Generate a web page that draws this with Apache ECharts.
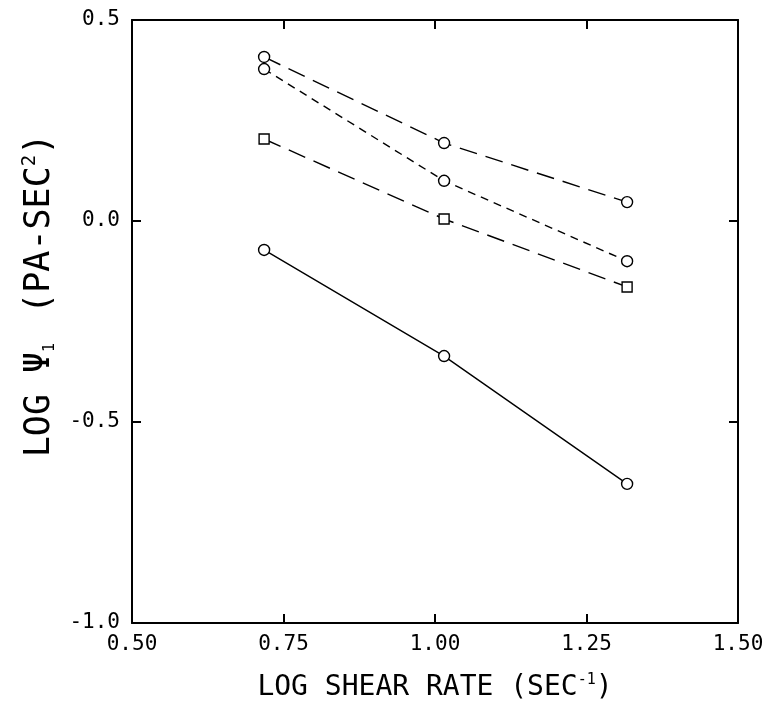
<!DOCTYPE html>
<html>
<head>
<meta charset="utf-8">
<script src="https://cdn.jsdelivr.net/npm/echarts@6/dist/echarts.min.js"></script>
<style>
  html, body { margin: 0; padding: 0; background: #fff; }
  #chart { width: 770px; height: 711px; }
</style>
</head>
<body>
<div id="chart"></div>
<script>
// log shear rate (x) values shared by every series
var shearRate = [0.718, 1.015, 1.317];
// log psi1 values, one list per curve
var psiLongDashCircle = [0.408, 0.194, 0.047];
var psiShortDashCircle = [0.378, 0.100, -0.100];
var psiLongDashSquare = [0.204, 0.005, -0.164];
var psiSolidCircle = [-0.072, -0.336, -0.654];

function pairs(ys) {
    return shearRate.map(function (x, i) { return [x, ys[i]]; });
}

var font = '"DejaVu Sans Mono", monospace';

function series(ys, symbol, dash) {
    return {
        type: 'line',
        data: pairs(ys),
        symbol: symbol,
        symbolSize: symbol === 'circle' ? 11 : 10,
        showSymbol: true,
        itemStyle: { color: '#fff', borderColor: '#000', borderWidth: 1.4 },
        lineStyle: { color: '#000', width: 1.4, type: dash },
        emphasis: { disabled: true },
        z: 3
    };
}

var line = { onZero: false, lineStyle: { color: '#000', width: 2 } };
var tick = { inside: true, length: 9, lineStyle: { color: '#000', width: 2 } };

var chart = echarts.init(document.getElementById('chart'));
chart.setOption({
    animation: false,
    backgroundColor: '#fff',
    grid: { left: 132, right: 32, top: 20, bottom: 88 },
    xAxis: [{
        type: 'value',
        min: 0.5, max: 1.5, interval: 0.25,
        axisLine: line,
        axisTick: tick,
        axisLabel: {
            color: '#000', fontSize: 21, fontFamily: font, margin: 11,
            formatter: function (v) { return v.toFixed(2); }
        },
        splitLine: { show: false },
        name: 'LOG SHEAR RATE {n|(SEC}{s|-1}{n|)}',
        nameLocation: 'middle',
        nameGap: 50,
        nameTextStyle: {
            color: '#000', fontSize: 28, fontFamily: font,
            rich: {
                n: { fontSize: 28, fontFamily: font, color: '#000' },
                s: { fontSize: 15, fontFamily: font, color: '#000', verticalAlign: 'top', padding: [0, 0, 14, 0] }
            }
        }
    }, {
        type: 'value', position: 'top',
        min: 0.5, max: 1.5, interval: 0.25,
        axisLine: line,
        axisTick: tick,
        axisLabel: { show: false },
        splitLine: { show: false }
    }],
    yAxis: [{
        type: 'value',
        min: -1, max: 0.5, interval: 0.5,
        axisLine: line,
        axisTick: tick,
        axisLabel: {
            color: '#000', fontSize: 21, fontFamily: font, margin: 12,
            formatter: function (v) { return v.toFixed(1); }
        },
        splitLine: { show: false },
        name: 'LOG Ψ{b|1} (PA-SEC{s|2})',
        nameLocation: 'middle',
        nameRotate: 90,
        nameGap: 74,
        nameTextStyle: {
            color: '#000', fontSize: 35, fontFamily: font,
            padding: [0, 0, 0, 52],
            rich: {
                s: { fontSize: 19, fontFamily: font, color: '#000', verticalAlign: 'top', padding: [0, 0, 18, 0] },
                b: { fontSize: 15, fontFamily: font, color: '#000', verticalAlign: 'bottom', padding: [14, 8, 0, 0] }
            }
        }
    }, {
        type: 'value', position: 'right',
        min: -1, max: 0.5, interval: 0.5,
        axisLine: line,
        axisTick: tick,
        axisLabel: { show: false },
        splitLine: { show: false }
    }],
    series: [
        series(psiLongDashCircle, 'circle', [18, 9]),
        series(psiShortDashCircle, 'circle', [8, 6]),
        series(psiLongDashSquare, 'rect', [18, 9]),
        series(psiSolidCircle, 'circle', 'solid')
    ]
});
</script>
</body>
</html>
